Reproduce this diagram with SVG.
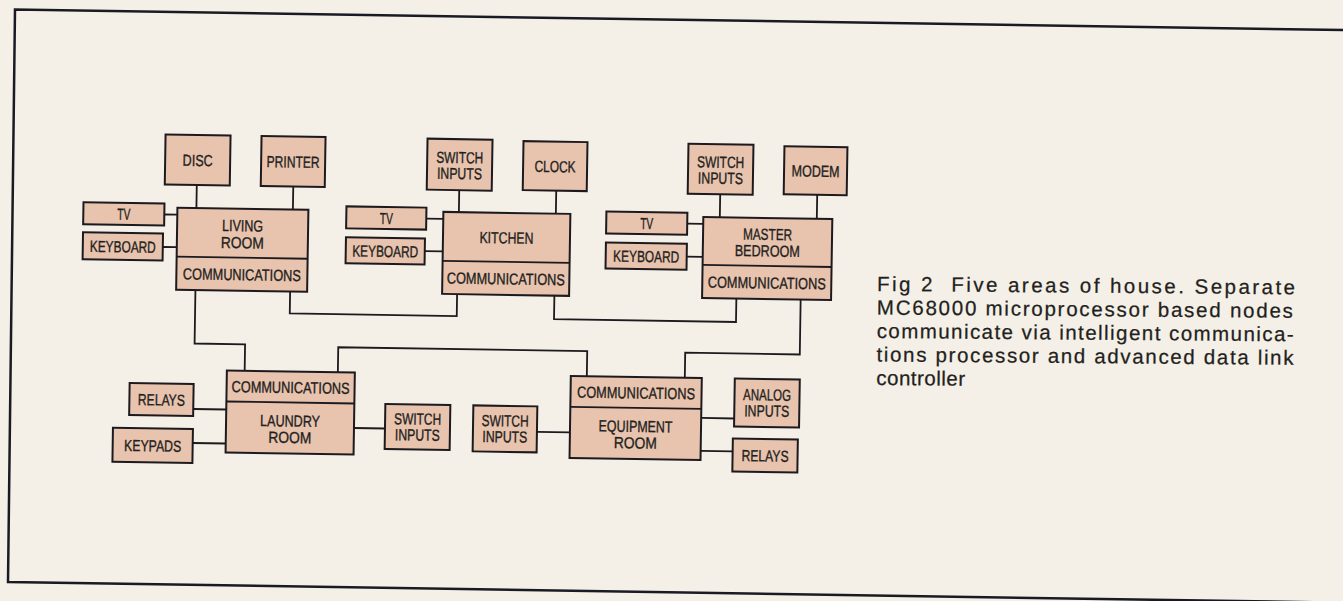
<svg xmlns="http://www.w3.org/2000/svg" width="1343" height="601" viewBox="0 0 1343 601">
<style>
.box{fill:#e8c3ae;stroke:#1c1a1e;stroke-width:2}
.ln{fill:none;stroke:#1c1a1e;stroke-width:1.8}
.t{font-family:"Liberation Sans",Arial,sans-serif;font-size:16px;fill:#231f20;stroke:#231f20;stroke-width:0.35;text-anchor:middle}
.cap{font-family:"Liberation Sans",Arial,sans-serif;font-size:20.5px;fill:#231f20;stroke:#231f20;stroke-width:0.25}
</style>
<rect width="1343" height="601" fill="#f4f0e7"/>
<path id="frame" d="M1343,30.1 L15,9.5 L8,582 L1343,602.7" fill="none" stroke="#1a1a24" stroke-width="2.5"/>
<g transform="rotate(0.9 450 300)">
<g id="connectors">
<path class="ln" d="M195,189V212M291.5,189V212M163,219H176M162,251.5H176"/>
<path class="ln" d="M457.5,189V212M554.5,189V212M425,219H442M424,251.5H442"/>
<path class="ln" d="M718.5,190V213M815.5,189V213M686,220H702M686,253H702"/>
<path class="ln" d="M195.3,294V347.5H245.8V374"/>
<path class="ln" d="M290,294V316H457V294"/>
<path class="ln" d="M554.3,294V317.5H736.3V294"/>
<path class="ln" d="M800.6,294V349H686V374"/>
<path class="ln" d="M339,374V349H588V374"/>
<path class="ln" d="M195,413H228M195,447H228M356,429.5H387"/>
<path class="ln" d="M539,430.5H572M703,414H736M703,447H735"/>
</g>
<g id="living-room">
<rect class="box" x="176" y="212" width="131" height="82"/>
<line class="ln" x1="176" y1="261" x2="307" y2="261"/>
<text class="t" x="241.5" y="234.5" textLength="41" lengthAdjust="spacingAndGlyphs">LIVING</text>
<text class="t" x="241.5" y="251.5" textLength="43" lengthAdjust="spacingAndGlyphs">ROOM</text>
<text class="t" x="241.5" y="283.5" textLength="118" lengthAdjust="spacingAndGlyphs">COMMUNICATIONS</text>
</g>
<g id="lr-disc"><rect class="box" x="163" y="139" width="65" height="50"/><text class="t" x="195.5" y="170" textLength="30" lengthAdjust="spacingAndGlyphs">DISC</text></g>
<g id="lr-printer"><rect class="box" x="259" y="139" width="64" height="50"/><text class="t" x="291" y="170" textLength="53" lengthAdjust="spacingAndGlyphs">PRINTER</text></g>
<g id="lr-tv"><rect class="box" x="82" y="208" width="81" height="22"/><text class="t" x="122.5" y="225" textLength="13" lengthAdjust="spacingAndGlyphs">TV</text></g>
<g id="lr-keyboard"><rect class="box" x="82" y="238" width="80" height="27"/><text class="t" x="122" y="257.5" textLength="66" lengthAdjust="spacingAndGlyphs">KEYBOARD</text></g>

<g id="kitchen">
<rect class="box" x="442" y="212" width="127" height="82"/>
<line class="ln" x1="442" y1="261" x2="569" y2="261"/>
<text class="t" x="505.5" y="242.5" textLength="54" lengthAdjust="spacingAndGlyphs">KITCHEN</text>
<text class="t" x="505.5" y="283.5" textLength="118" lengthAdjust="spacingAndGlyphs">COMMUNICATIONS</text>
</g>
<g id="k-switch"><rect class="box" x="425" y="139" width="65" height="51"/><text class="t" x="457.5" y="163" textLength="47" lengthAdjust="spacingAndGlyphs">SWITCH</text><text class="t" x="457.5" y="179" textLength="45" lengthAdjust="spacingAndGlyphs">INPUTS</text></g>
<g id="k-clock"><rect class="box" x="521" y="140" width="64" height="49"/><text class="t" x="553" y="170.5" textLength="41" lengthAdjust="spacingAndGlyphs">CLOCK</text></g>
<g id="k-tv"><rect class="box" x="345" y="208" width="80" height="22"/><text class="t" x="385" y="225" textLength="13" lengthAdjust="spacingAndGlyphs">TV</text></g>
<g id="k-keyboard"><rect class="box" x="345" y="239" width="79" height="26"/><text class="t" x="384.5" y="258" textLength="66" lengthAdjust="spacingAndGlyphs">KEYBOARD</text></g>

<g id="master-bedroom">
<rect class="box" x="702" y="213" width="129" height="81"/>
<line class="ln" x1="702" y1="261" x2="831" y2="261"/>
<text class="t" x="766.5" y="235" textLength="49" lengthAdjust="spacingAndGlyphs">MASTER</text>
<text class="t" x="766.5" y="251.5" textLength="65" lengthAdjust="spacingAndGlyphs">BEDROOM</text>
<text class="t" x="766.5" y="283.5" textLength="118" lengthAdjust="spacingAndGlyphs">COMMUNICATIONS</text>
</g>
<g id="mb-switch"><rect class="box" x="686" y="140" width="65" height="50"/><text class="t" x="718.5" y="163.5" textLength="47" lengthAdjust="spacingAndGlyphs">SWITCH</text><text class="t" x="718.5" y="179.5" textLength="45" lengthAdjust="spacingAndGlyphs">INPUTS</text></g>
<g id="mb-modem"><rect class="box" x="782" y="141" width="63" height="48"/><text class="t" x="813.5" y="171" textLength="48" lengthAdjust="spacingAndGlyphs">MODEM</text></g>
<g id="mb-tv"><rect class="box" x="605" y="209" width="81" height="22"/><text class="t" x="645.5" y="226" textLength="13" lengthAdjust="spacingAndGlyphs">TV</text></g>
<g id="mb-keyboard"><rect class="box" x="605" y="240" width="81" height="26"/><text class="t" x="645.5" y="259" textLength="66" lengthAdjust="spacingAndGlyphs">KEYBOARD</text></g>

<g id="laundry-room">
<rect class="box" x="228" y="374" width="128" height="82"/>
<line class="ln" x1="228" y1="405" x2="356" y2="405"/>
<text class="t" x="292" y="395.5" textLength="118" lengthAdjust="spacingAndGlyphs">COMMUNICATIONS</text>
<text class="t" x="292" y="429" textLength="60" lengthAdjust="spacingAndGlyphs">LAUNDRY</text>
<text class="t" x="292" y="445.5" textLength="43" lengthAdjust="spacingAndGlyphs">ROOM</text>
</g>
<g id="l-relays"><rect class="box" x="131" y="388" width="64" height="32"/><text class="t" x="163" y="410" textLength="47" lengthAdjust="spacingAndGlyphs">RELAYS</text></g>
<g id="l-keypads"><rect class="box" x="115" y="433" width="80" height="34"/><text class="t" x="155" y="456" textLength="57" lengthAdjust="spacingAndGlyphs">KEYPADS</text></g>
<g id="l-switch"><rect class="box" x="387" y="405" width="65" height="45"/><text class="t" x="419.5" y="425" textLength="47" lengthAdjust="spacingAndGlyphs">SWITCH</text><text class="t" x="419.5" y="441" textLength="45" lengthAdjust="spacingAndGlyphs">INPUTS</text></g>

<g id="equipment-room">
<rect class="box" x="572" y="374" width="131" height="82"/>
<line class="ln" x1="572" y1="405" x2="703" y2="405"/>
<text class="t" x="637.5" y="395.5" textLength="118" lengthAdjust="spacingAndGlyphs">COMMUNICATIONS</text>
<text class="t" x="637.5" y="429" textLength="74" lengthAdjust="spacingAndGlyphs">EQUIPMENT</text>
<text class="t" x="637.5" y="445.5" textLength="43" lengthAdjust="spacingAndGlyphs">ROOM</text>
</g>
<g id="e-switch"><rect class="box" x="475" y="405" width="64" height="46"/><text class="t" x="507" y="425.5" textLength="47" lengthAdjust="spacingAndGlyphs">SWITCH</text><text class="t" x="507" y="441.5" textLength="45" lengthAdjust="spacingAndGlyphs">INPUTS</text></g>
<g id="e-analog"><rect class="box" x="736" y="374" width="65" height="48"/><text class="t" x="768.5" y="395.5" textLength="48" lengthAdjust="spacingAndGlyphs">ANALOG</text><text class="t" x="768.5" y="411.5" textLength="45" lengthAdjust="spacingAndGlyphs">INPUTS</text></g>
<g id="e-relays"><rect class="box" x="735" y="434" width="65" height="33"/><text class="t" x="767.5" y="456.5" textLength="47" lengthAdjust="spacingAndGlyphs">RELAYS</text></g>
</g>
<g id="caption" transform="rotate(0.45 877 291)">
<text class="cap" x="877" y="291" textLength="418" lengthAdjust="spacing" xml:space="preserve">Fig 2  Five areas of house. Separate</text>
<text class="cap" x="877" y="314.5" textLength="416" lengthAdjust="spacing">MC68000 microprocessor based nodes</text>
<text class="cap" x="877" y="338" textLength="417" lengthAdjust="spacing">communicate via intelligent communica-</text>
<text class="cap" x="877" y="361.5" textLength="417" lengthAdjust="spacing">tions processor and advanced data link</text>
<text class="cap" x="877" y="385" letter-spacing="0.5">controller</text>
</g>
</svg>
